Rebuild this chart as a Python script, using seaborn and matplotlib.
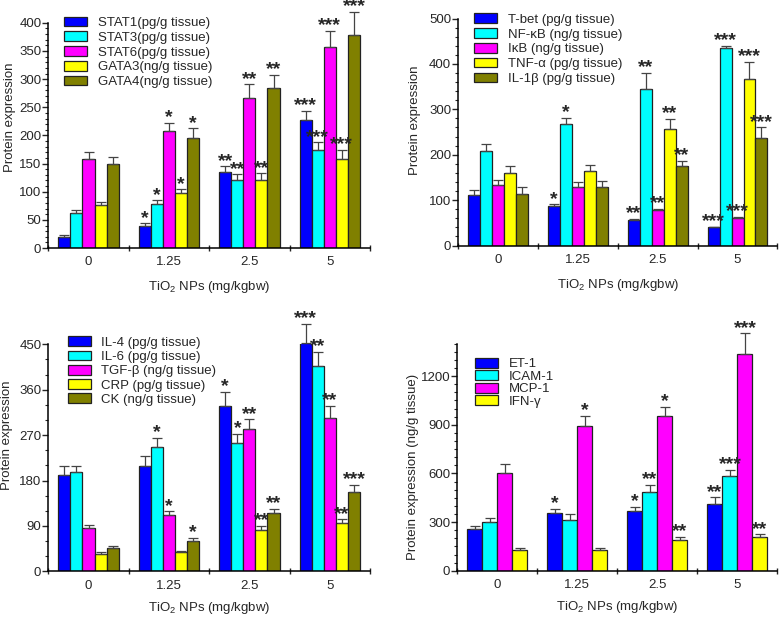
import numpy as np
import pandas as pd
import matplotlib
matplotlib.use("Agg")
import matplotlib.pyplot as plt
import seaborn as sns
from matplotlib.ticker import MultipleLocator, FixedLocator
from matplotlib.container import BarContainer

# Data
doses = ["0", "1.25", "2.5", "5"]
palette5 = ["#0000ff", "#00ffff", "#ff00ff", "#ffff00", "#808000"]

a_names = ["STAT1(pg/g tissue)", "STAT3(pg/g tissue)", "STAT6(pg/g tissue)",
           "GATA3(ng/g tissue)", "GATA4(ng/g tissue)"]
a_vals = [[20, 40, 135, 227], [62, 79, 120, 175], [159, 207, 267, 357],
          [76, 97, 120, 159], [149, 195, 284, 378]]
a_errs = [[3, 4, 10, 17], [5, 6, 11, 13], [12, 15, 24, 29],
          [6, 7, 13, 15], [13, 18, 24, 42]]
a_stars = [["", "*", "**", "***"], ["", "*", "**", "***"], ["", "*", "**", "***"],
           ["", "*", "**", "***"], ["", "*", "**", "***"]]

b_names = ["T-bet (pg/g tissue)", "NF-\u03baB (ng/g tissue)", "I\u03baB (ng/g tissue)",
           "TNF-\u03b1 (pg/g tissue)", "IL-1\u03b2 (pg/g tissue)"]
b_vals = [[112, 87, 56, 40], [209, 268, 344, 435], [134, 128, 78, 60],
          [159, 165, 257, 367], [113, 129, 176, 237]]
b_errs = [[10, 4, 3, 1], [15, 13, 37, 5], [11, 13, 3, 3],
          [17, 13, 22, 38], [17, 13, 11, 23]]
b_stars = [["", "*", "**", "***"], ["", "*", "**", "***"], ["", "", "**", "***"],
           ["", "", "**", "***"], ["", "", "**", "***"]]

c_names = ["IL-4 (pg/g tissue)", "IL-6 (pg/g tissue)", "TGF-\u03b2 (ng/g tissue)",
           "CRP (pg/g tissue)", "CK (ng/g tissue)"]
c_vals = [[190, 208, 328, 453], [196, 247, 254, 407], [86, 112, 283, 303],
          [34, 38, 82, 96], [47, 61, 116, 158]]
c_errs = [[18, 20, 28, 37], [12, 18, 18, 28], [6, 7, 18, 25],
          [4, 2, 8, 7], [4, 5, 8, 13]]
c_stars = [["", "", "*", "***"], ["", "*", "*", "**"], ["", "*", "**", "**"],
           ["", "", "**", "**"], ["", "*", "**", "***"]]

d_names = ["ET-1", "ICAM-1", "MCP-1", "IFN-\u03b3"]
d_vals = [[255, 358, 370, 410], [300, 315, 483, 583], [600, 895, 952, 1338],
          [125, 130, 190, 205]]
d_errs = [[22, 25, 25, 42], [25, 32, 47, 40], [55, 62, 60, 125],
          [15, 10, 20, 20]]
d_stars = [["", "*", "*", "**"], ["", "", "**", "***"], ["", "*", "*", "***"],
           ["", "", "**", "**"]]

sns.set_style("ticks")
plt.rcParams['font.family'] = ['Liberation Sans', 'DejaVu Sans']
plt.rcParams['mathtext.fontset'] = 'custom'
plt.rcParams['mathtext.rm'] = 'Liberation Sans'
plt.rcParams['mathtext.it'] = 'Liberation Sans'

fig = plt.figure(figsize=(7.79, 6.17), dpi=100)


def draw_panel(rect, names, vals, errs, stars, ylim, major, minor, ylabel,
               ylab_xy, leg_xy, leg_space, xpad):
    ax = fig.add_axes(rect)
    rows = []
    for n, v in zip(names, vals):
        for d, y in zip(doses, v):
            rows.append({"dose": d, "marker": n, "value": y})
    df = pd.DataFrame(rows)
    sns.barplot(data=df, x="dose", y="value", hue="marker", order=doses,
                hue_order=names, palette=palette5[:len(names)], errorbar=None,
                width=0.75, edgecolor="#222222", linewidth=0.9, saturation=1,
                ax=ax)
    bars = [c for c in ax.containers if isinstance(c, BarContainer)]
    for i, cont in enumerate(bars):
        for j, bar in enumerate(cont.patches):
            x = bar.get_x() + bar.get_width() / 2
            h = bar.get_height()
            e = errs[i][j]
            ax.errorbar(x, h, yerr=[[0], [e]], fmt='none', ecolor='#444444',
                        elinewidth=0.9, capsize=3.5, capthick=0.9, clip_on=False,
                        zorder=1)
            if stars[i][j]:
                ax.annotate(stars[i][j], (x, h + e), xytext=(0, -2.5),
                            textcoords='offset points', ha='center', va='bottom',
                            fontsize=14, fontweight='bold', annotation_clip=False)
    ax.set_xlim(-0.5, 3.5)
    ax.set_ylim(*ylim)
    ax.yaxis.set_major_locator(MultipleLocator(major))
    ax.yaxis.set_minor_locator(MultipleLocator(minor))
    ax.xaxis.set_minor_locator(FixedLocator([-0.5, 0.5, 1.5, 2.5, 3.5]))
    ax.tick_params(axis='x', which='major', length=0, labelsize=9.5, pad=6)
    ax.tick_params(axis='x', which='minor', length=4, width=1, direction='inout')
    ax.tick_params(axis='y', which='major', length=4, width=1, labelsize=9.5, pad=1)
    ax.tick_params(axis='y', which='minor', length=2.5, width=0.8)
    sns.despine(ax=ax)
    for s in ['left', 'bottom']:
        ax.spines[s].set_linewidth(1.1)
        ax.spines[s].set_color('black')
    ax.set_xlabel(r'TiO$_2$ NPs (mg/kgbw)', fontsize=9.5, labelpad=xpad)
    ax.set_ylabel(ylabel, fontsize=9.5)
    ax.yaxis.set_label_coords(*ylab_xy)
    handles, labels = ax.get_legend_handles_labels()
    ax.legend(handles, labels, loc='upper left', bbox_to_anchor=leg_xy,
              frameon=False, fontsize=9.5, borderaxespad=0, borderpad=0,
              handlelength=1.75, handleheight=0.75, labelspacing=leg_space,
              handletextpad=0.8)
    return ax


draw_panel([0.062, 0.598, 0.413, 0.365], a_names, a_vals, a_errs, a_stars,
           (0, 400), 50, 10, "Protein expression", (-0.1, 0.58),
           (0.05, 1.028), 0.18, 8)
draw_panel([0.588, 0.602, 0.410, 0.368], b_names, b_vals, b_errs, b_stars,
           (0, 500), 100, 20, "Protein expression", (-0.115, 0.55),
           (0.05, 1.023), 0.18, 8)
draw_panel([0.062, 0.074, 0.413, 0.368], c_names, c_vals, c_errs, c_stars,
           (0, 450), 90, 30, "Protein expression", (-0.11, 0.6),
           (0.06, 1.035), 0.14, 6)
draw_panel([0.587, 0.075, 0.411, 0.368], d_names, d_vals, d_errs, d_stars,
           (0, 1400), 300, 50, "Protein expression (ng/g tissue)", (-0.12, 0.455),
           (0.055, 0.937), 0.0, 6)

fig.savefig("out.png", dpi=100)
